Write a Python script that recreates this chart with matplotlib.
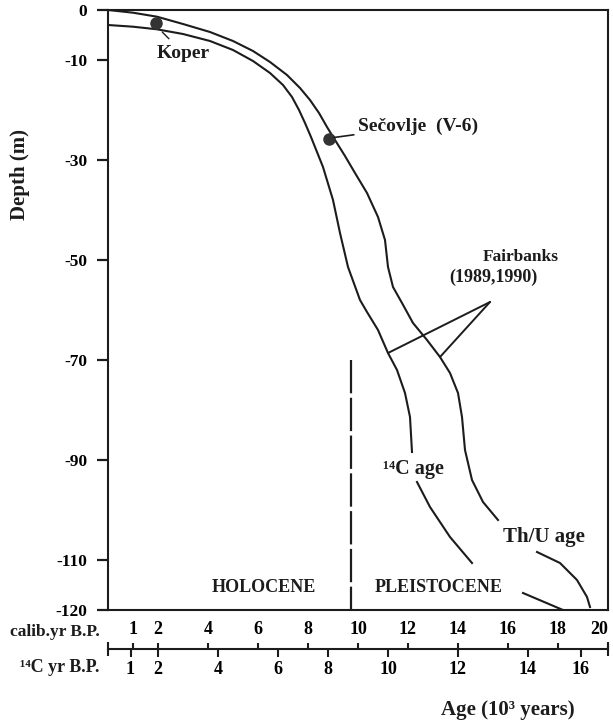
import matplotlib
matplotlib.use("Agg")
import matplotlib.pyplot as plt
import numpy as np

# curves: age in calib. kyr B.P., depth in m (nan = break in the drawn line)
thu_age = [0, 1.0, 1.96, 3.0, 4.08, 5.0, 5.8, 6.48, 7.16, 7.68, 8.08, 8.44, 8.76, 9.08,
           9.48, 9.88, 10.36, 10.8, 11.08, 11.2, 11.4, 11.76, 12.2, 12.76, 13.28, 13.68,
           14.0, 14.16, 14.28, 14.56, 15.0, 15.6, np.nan, 17.16, 18.08, 18.76, 19.16, 19.28]
thu_depth = [0, -0.54, -1.34, -2.8, -4.4, -6.2, -8.2, -10.4, -13.0, -15.6, -18.0, -20.6,
             -23.4, -26.0, -29.2, -32.6, -36.6, -41.4, -46.0, -51.4, -55.4, -58.6, -62.6,
             -66.0, -69.4, -72.6, -76.6, -81.4, -88.0, -94.0, -98.4, -102.0, np.nan,
             -108.4, -110.6, -114.0, -117.4, -119.4]

c14_age = [0, 1.0, 1.96, 3.0, 4.08, 5.0, 5.8, 6.48, 7.0, 7.36, 7.64, 7.88, 8.12, 8.36,
           8.6, 9.0, 9.28, 9.6, 10.08, 10.36, 10.8, 11.2, 11.56, 11.88, 12.08, 12.16, np.nan,
           12.36, 12.88, 13.68, 14.56, np.nan, 16.6, 18.2]
c14_depth = [-3.0, -3.34, -3.86, -4.8, -6.2, -8.0, -10.2, -12.6, -15.0, -17.4, -20.0,
             -22.6, -25.4, -28.4, -31.4, -38.0, -44.6, -51.4, -58.0, -60.4, -64.0, -68.6,
             -72.0, -76.6, -81.4, -88.4, np.nan, -94.4, -99.4, -105.4, -110.6, np.nan,
             -116.6, -120]

# sites
site_names = ["Koper", "Sečovlje  (V-6)"]
site_age = [1.92, 8.84]
site_depth = [-2.6, -25.8]

# axes
depth_ticks = [0, -10, -30, -50, -70, -90, -110, -120]
calib_ticks = [1, 2, 4, 6, 8, 10, 12, 14, 16, 18, 20]
c14_labels = [1, 2, 4, 6, 8, 10, 12, 14, 16]
c14_pos = [0.9, 2.0, 4.4, 6.8, 8.8, 11.2, 14.0, 16.8, 18.9]
boundary_age = 9.72

ink = "#1c1c1c"
plt.rcParams["font.family"] = ["Liberation Serif", "DejaVu Serif"]
plt.rcParams["font.weight"] = "bold"
plt.rcParams["text.color"] = ink

fig = plt.figure(figsize=(6.13, 7.24), dpi=100)
W, H = 613, 724
ax = fig.add_axes([108 / W, 1 - 610 / H, 500 / W, 600 / H])

ax.plot(thu_age, thu_depth, color=ink, lw=1.5, solid_joinstyle="round")
ax.plot(c14_age, c14_depth, color=ink, lw=1.5, solid_joinstyle="round")
ax.plot(site_age, site_depth, "o", color="#333", ms=8)

ax.plot([boundary_age, boundary_age], [-70, -120], color=ink, lw=1.6, dashes=(15, 2))

ax.set_xlim(0, 20)
ax.set_ylim(-120, 0)
ax.set_yticks(depth_ticks)
ax.set_yticklabels([str(t) for t in depth_ticks], fontsize=12.5, fontweight="bold")
ax.set_xticks([])
ax.tick_params(axis="y", direction="out", length=8, width=1.6, color=ink, pad=7)
for s in ax.spines.values():
    s.set_color(ink)
    s.set_linewidth(1.5)

fig.text(20 / W, 1 - 174 / H, "Depth (m)", rotation=90, ha="center", va="center", fontsize=15)

# annotations
ax.annotate(site_names[0], xy=(site_age[0] + 0.25, site_depth[0] - 1.8), xytext=(3.0, -8.6),
            ha="center", va="center", fontsize=14,
            arrowprops=dict(arrowstyle="-", color=ink, lw=1, shrinkA=3, shrinkB=0))
ax.annotate(site_names[1], xy=(site_age[1] + 0.2, site_depth[1] + 0.3), xytext=(10.0, -23.2),
            ha="left", va="center", fontsize=14,
            arrowprops=dict(arrowstyle="-", color=ink, lw=1.2, shrinkA=1, shrinkB=0))

ax.text(16.5, -49.4, "Fairbanks", ha="center", va="center", fontsize=12.5)
ax.text(15.4, -53.4, "(1989,1990)", ha="center", va="center", fontsize=13)
apex = (15.28, -58.4)
i_c14 = c14_depth.index(-68.6)
i_thu = thu_depth.index(-69.4)
ax.annotate("", xy=(c14_age[i_c14], c14_depth[i_c14]), xytext=apex,
            arrowprops=dict(arrowstyle="-", color=ink, lw=1.4, shrinkA=0, shrinkB=0))
ax.annotate("", xy=(thu_age[i_thu], thu_depth[i_thu]), xytext=apex,
            arrowprops=dict(arrowstyle="-", color=ink, lw=1.4, shrinkA=0, shrinkB=0))

ax.text(12.2, -91.8, "¹⁴C age", ha="center", va="center", fontsize=14.5)
ax.text(17.44, -105.4, "Th/U age", ha="center", va="center", fontsize=15)
ax.text(6.24, -115.4, "HOLOCENE", ha="center", va="center", fontsize=13)
ax.text(13.24, -115.4, "PLEISTOCENE", ha="center", va="center", fontsize=13)

# double age scale below the plot
sc = fig.add_axes([108 / W, 1 - 649 / H, 500 / W, 0.0001])
sc.set_xlim(0, 20)
sc.set_yticks([])
for k in ["top", "left", "right"]:
    sc.spines[k].set_visible(False)
sc.spines["bottom"].set_color(ink)
sc.spines["bottom"].set_linewidth(1.5)
sc.patch.set_visible(False)
sc.set_xticks(c14_pos)
sc.set_xticklabels([str(v) for v in c14_labels], fontsize=13, fontweight="bold")
sc.set_xticks([0, 20], minor=True)
sc.tick_params(axis="x", which="major", direction="out", length=6, width=1.5, color=ink, pad=3)
sc.tick_params(axis="x", which="minor", direction="inout", length=10, width=1.5, color=ink)

top = sc.secondary_xaxis("top")
top.set_xticks(calib_ticks)
top.set_xticklabels([str(v) for v in calib_ticks], fontsize=13, fontweight="bold")
top.tick_params(axis="x", direction="out", length=4, width=1.5, color=ink, pad=4)
top.spines["top"].set_visible(False)
top.get_xticklabels()[-1].set_horizontalalignment("right")

fig.text(55 / W, 1 - 632 / H, "calib.yr B.P.", ha="center", va="center", fontsize=12.5)
fig.text(99 / W, 1 - 668 / H, "¹⁴C yr B.P.", ha="right", va="center", fontsize=13)
fig.text(508 / W, 1 - 710 / H, "Age (10³ years)", ha="center", va="center", fontsize=15)

fig.savefig("out.png", dpi=100, facecolor="white")
